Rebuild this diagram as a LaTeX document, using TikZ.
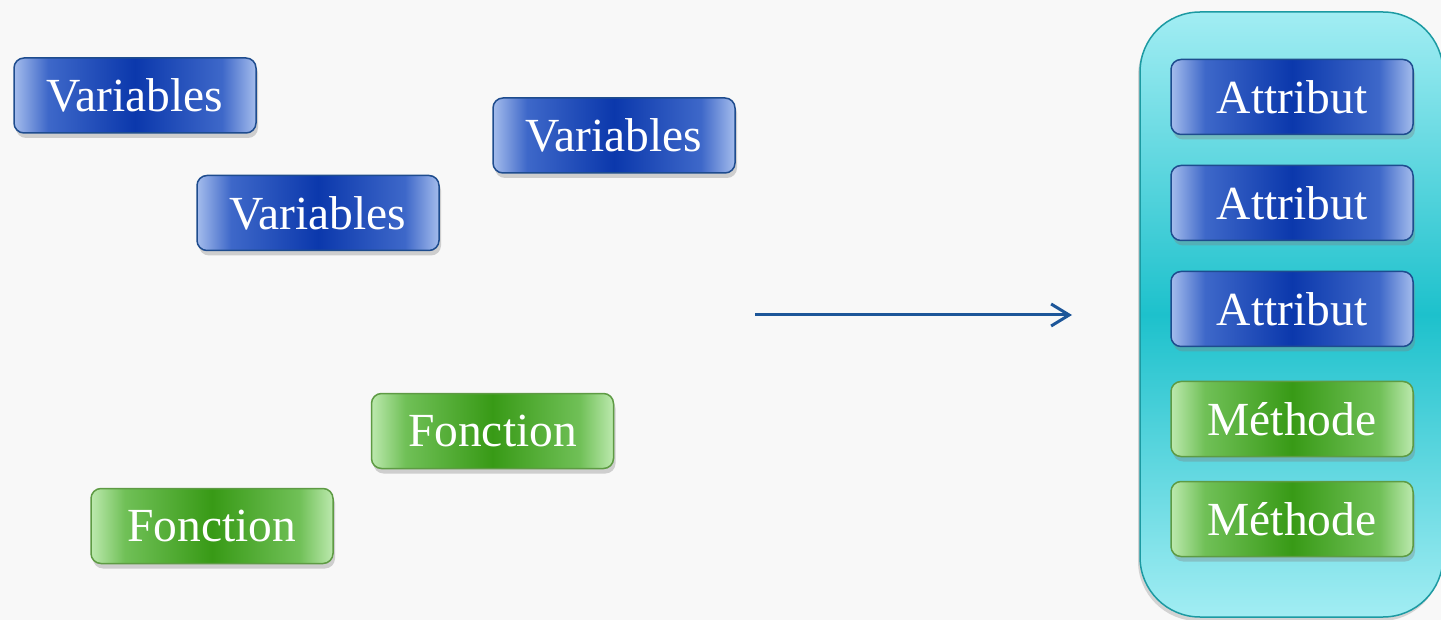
\documentclass[tikz,border=0pt]{standalone}
\usepackage{fontspec}
\setmainfont{Liberation Serif}
\usetikzlibrary{arrows.meta, shadows}

\definecolor{bgfond}{HTML}{F8F8F8}
\definecolor{bleufonce}{HTML}{0B38AC}
\definecolor{bleumoyen}{HTML}{3E68C9}
\definecolor{bleuclair}{HTML}{A4BCEC}
\definecolor{bleubord}{HTML}{1E4C8E}
\definecolor{vertfonce}{HTML}{389A16}
\definecolor{vertmoyen}{HTML}{70C057}
\definecolor{vertclair}{HTML}{BCE9AE}
\definecolor{vertbord}{HTML}{5E9B44}
\definecolor{cyanfonce}{HTML}{1DC1CC}
\definecolor{cyanclair}{HTML}{A2EDF3}
\definecolor{cyanbord}{HTML}{1C9AA2}
\definecolor{fleche}{HTML}{1D5699}

\pgfdeclarehorizontalshading{bleuboite}{100bp}{color(0bp)=(bleuclair); color(25bp)=(bleuclair);
  color(32bp)=(bleumoyen); color(50bp)=(bleufonce); color(68bp)=(bleumoyen);
  color(75bp)=(bleuclair); color(100bp)=(bleuclair)}
\pgfdeclarehorizontalshading{vertboite}{100bp}{color(0bp)=(vertclair); color(25bp)=(vertclair);
  color(32bp)=(vertmoyen); color(50bp)=(vertfonce); color(68bp)=(vertmoyen);
  color(75bp)=(vertclair); color(100bp)=(vertclair)}

\tikzset{
  boite/.style={rounded corners=10pt, line width=1.5pt, minimum width=242pt,
    minimum height=75pt, inner sep=0pt, text=white,
    font=\fontsize{47.5}{56}\selectfont,
    drop shadow={opacity=0.35, shadow xshift=2pt, shadow yshift=-5pt}},
  bleu/.style={boite, draw=bleubord, shading=bleuboite},
  vert/.style={boite, draw=vertbord, shading=vertboite},
  classe/.style={rounded corners=60pt, line width=1.5pt, draw=cyanbord,
    top color=cyanclair, bottom color=cyanclair, middle color=cyanfonce,
    drop shadow={opacity=0.3, shadow xshift=-2pt, shadow yshift=-4pt}}
}

\begin{document}
\begin{tikzpicture}[x=1pt, y=-1pt]
\fill[bgfond] (0,0) rectangle (1441,620);
\useasboundingbox (0,0) rectangle (1441,620);

\node[bleu] (var1) at (135,95.5) {Variables};
\node[bleu] (var2) at (614,135.5) {Variables};
\node[bleu] (var3) at (318,213) {Variables};
\node[vert] (fonc1) at (492.5,431) {Fonction};
\node[vert] (fonc2) at (212,526) {Fonction};

\coordinate (depart) at (755,315);
\coordinate (arrivee) at (1072,315);
\draw[fleche, line width=3pt, -{Straight Barb[length=18pt, width=22pt, line width=3pt]}] (depart) -- (arrivee);

\node[classe, minimum width=303pt, minimum height=605pt] (objet) at (1291.5,314.5) {};
\node[bleu] (attr1) at (1292,97) {Attribut};
\node[bleu] (attr2) at (1292,203) {Attribut};
\node[bleu] (attr3) at (1292,309) {Attribut};
\node[vert] (meth1) at (1292,419) {Méthode};
\node[vert] (meth2) at (1292,519) {Méthode};
\end{tikzpicture}
\end{document}
